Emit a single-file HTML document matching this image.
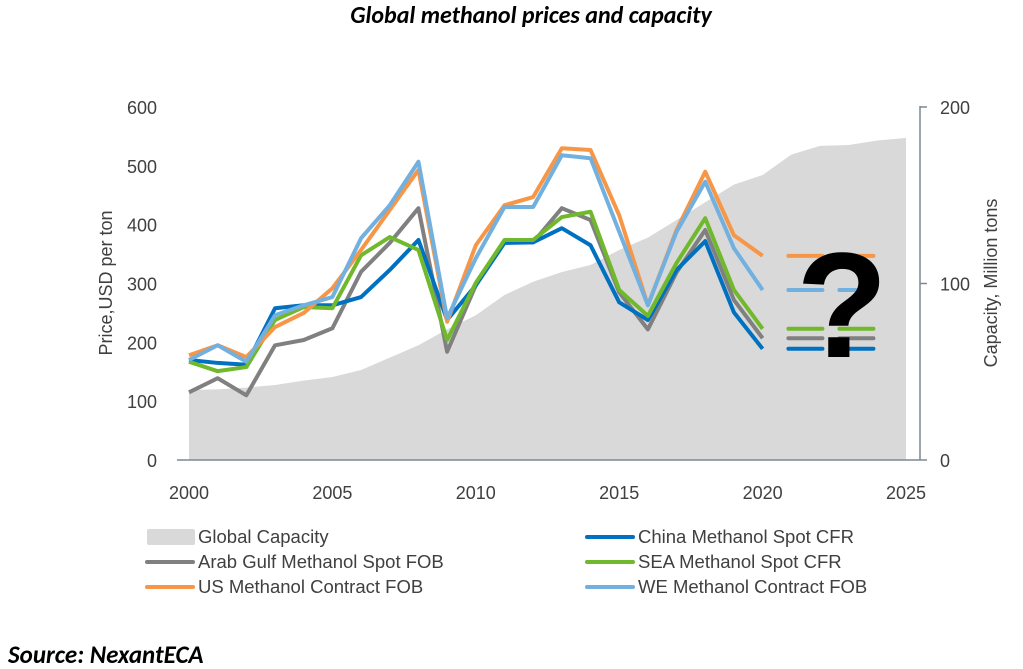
<!DOCTYPE html>
<html><head><meta charset="utf-8">
<style>
body{margin:0;background:#fff;}
svg{display:block;font-family:"Liberation Sans",Arial,sans-serif;}
</style></head>
<body>
<svg id="chart" width="1023" height="669" viewBox="0 0 1023 669">
<text x="531" y="23" text-anchor="middle" font-size="24" font-weight="bold" font-style="italic" fill="#000" font-family="Calibri,Carlito,'Liberation Sans',sans-serif">Global methanol prices and capacity</text>
<g id="plot"></g>
<text x="8" y="663" font-size="25" font-weight="bold" font-style="italic" fill="#000" font-family="Calibri,Carlito,'Liberation Sans',sans-serif">Source: NexantECA</text>
</svg>
<script>
const years=[2000,2001,2002,2003,2004,2005,2006,2007,2008,2009,2010,2011,2012,2013,2014,2015,2016,2017,2018,2019,2020];
const capYears=[2000,2001,2002,2003,2004,2005,2006,2007,2008,2009,2010,2011,2012,2013,2014,2015,2016,2017,2018,2019,2020,2021,2022,2023,2024,2025];
const capacity=[39.7,40,41,42.5,45,47,51,58,65,74,82,93.5,101,106.5,110.5,119,126,136,146,156,161.5,173,178,178.5,181,182.5];
const china=[170,165,162,258,263,263,277,323,374,238,297,369,370,394,365,268,238,323,372,251,189];
const arab=[115,139,110,195,204,224,320,369,428,184,297,370,370,428,408,285,222,319,391,272,207];
const sea=[167,151,158,238,260,258,348,379,357,204,301,374,374,413,422,289,245,335,411,289,223];
const us=[178,195,175,226,250,292,357,425,493,235,365,433,447,530,527,416,263,391,490,382,347];
const we=[170,195,167,246,263,277,377,433,507,241,343,430,430,518,513,388,263,388,473,360,289];
const leftTicks=[0,100,200,300,400,500,600];
const rightTicks=[0,100,200];
const xTicks=[2000,2005,2010,2015,2020,2025];
const ns="http://www.w3.org/2000/svg";
const g=document.getElementById('plot');
const X=y=>189+(y-2000)*28.68;
const YL=v=>460-v*0.5883;
const YR=v=>460-v*1.765;
function mk(t,a){const e=document.createElementNS(ns,t);for(const k in a)e.setAttribute(k,a[k]);g.appendChild(e);return e;}
let d='M'+X(capYears[0])+','+YR(0);
capYears.forEach((y,i)=>d+=' L'+X(y)+','+YR(capacity[i]));
d+=' L'+X(2025)+','+YR(0)+' Z';
let a=mk('path',{d:d,fill:'#d9d9d9'});


let ax=mk('line',{x1:177,y1:460,x2:920,y2:460,stroke:'#7f8790','stroke-width':1.5});


let ar=mk('line',{x1:920,y1:106,x2:920,y2:460,stroke:'#7f8790','stroke-width':1.5});


leftTicks.forEach(v=>{const t=mk('text',{x:157,y:YL(v)+7,'text-anchor':'end','font-size':18,fill:'#404040'});t.textContent=v;

});
rightTicks.forEach(v=>{mk('line',{x1:920,y1:YR(v),x2:927,y2:YR(v),stroke:'#7f8790','stroke-width':1.5});
const t=mk('text',{x:940,y:YR(v)+7,'font-size':18,fill:'#404040'});t.textContent=v;

});
xTicks.forEach(v=>{const t=mk('text',{x:X(v),y:499,'text-anchor':'middle','font-size':18,fill:'#404040'});t.textContent=v;

});
let yt=mk('text',{transform:'translate(112,283) rotate(-90)','text-anchor':'middle','font-size':18,fill:'#404040'});yt.textContent='Price,USD per ton';


let rt=mk('text',{transform:'translate(997,283) rotate(-90)','text-anchor':'middle','font-size':18,fill:'#404040'});rt.textContent='Capacity, Million tons';


const series=[[arab,'#808080','arab-gulf-line'],[china,'#0070c0','china-line'],[sea,'#70b82c','sea-line'],[us,'#f79646','us-line'],[we,'#72b0e0','we-line']];
series.forEach(([vals,col,name])=>{
  const p=vals.map((v,i)=>(i?'L':'M')+X(years[i])+','+YL(v)).join(' ');
  const l=mk('path',{d:p,fill:'none',stroke:col,'stroke-width':4,'stroke-linejoin':'round'});
  
  
  const last=vals[vals.length-1];
  const ds=mk('line',{x1:X(2020.9),y1:YL(last),x2:X(2024.05),y2:YL(last),stroke:col,'stroke-width':4,'stroke-dasharray':'34,17','stroke-linecap':'round'});
  
  
});
let q=mk('text',{x:842,y:357,'text-anchor':'middle','font-size':150,'font-weight':'bold',fill:'#000'});q.textContent='?';


const legend=[['Global Capacity','#d9d9d9',147,540,true],['China Methanol Spot CFR','#0070c0',587,540],['Arab Gulf Methanol Spot FOB','#808080',147,565],['SEA Methanol Spot CFR','#70b82c',587,565],['US Methanol Contract FOB','#f79646',147,590],['WE Methanol Contract FOB','#72b0e0',587,590]];
legend.forEach(([lab,col,x,y,box])=>{
  if(box){const r=mk('rect',{x:x,y:y-11,width:48,height:16,fill:col,rx:2});}
  else{const r=mk('line',{x1:x,y1:y-3,x2:x+46,y2:y-3,stroke:col,'stroke-width':4,'stroke-linecap':'round'});}
  const t=mk('text',{x:x+51,y:y+3,'font-size':18.5,fill:'#404040'});t.textContent=lab;
  
  
});
</script>
</body></html>
